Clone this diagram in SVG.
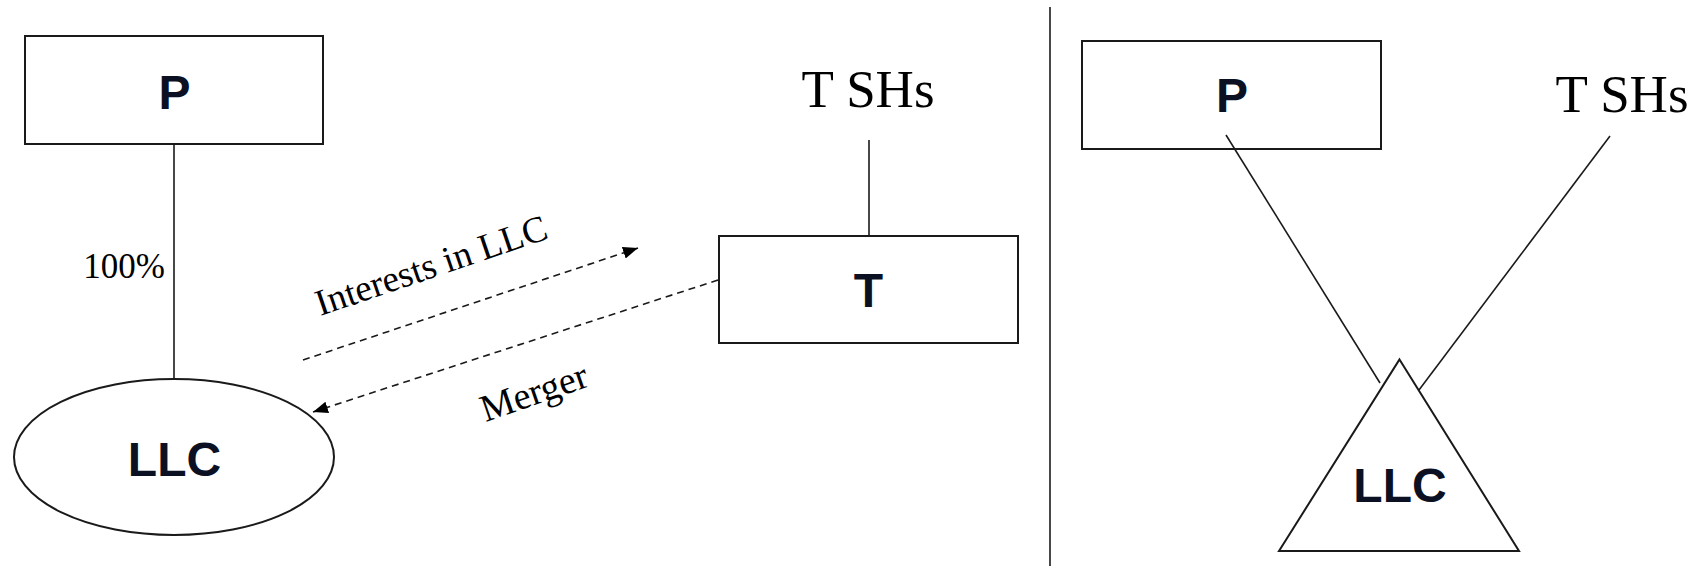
<svg xmlns="http://www.w3.org/2000/svg" width="1696" height="566" viewBox="0 0 1696 566">
<style>
.box{fill:#fff;stroke:#1a1a1a;stroke-width:2}
.ln{fill:none;stroke:#1a1a1a;stroke-width:1.6}
.dash{fill:none;stroke:#1a1a1a;stroke-width:1.6;stroke-dasharray:7 5}
.bold{font-family:"Liberation Sans",Arial,sans-serif;font-weight:bold;font-size:48px;fill:#0b1122;text-anchor:middle}
.serif{font-family:"Liberation Serif","Times New Roman",serif;fill:#000}
</style>
<defs>
<marker id="arr" markerWidth="16" markerHeight="14" refX="15" refY="7" orient="auto" markerUnits="userSpaceOnUse">
<path d="M0,1 L15,7 L0,13 Z" fill="#000"/>
</marker>
</defs>
<rect width="1696" height="566" fill="#fff"/>
<g id="P-left">
<rect class="box" x="25" y="36" width="298" height="108"/>
<text class="bold" x="174.5" y="109">P</text>
</g>
<g id="LLC-left">
<ellipse class="box" cx="174" cy="457" rx="160" ry="78"/>
<text class="bold" x="174.5" y="476">LLC</text>
</g>
<g id="TSHs-left">
<text class="serif" x="868" y="107" font-size="53" text-anchor="middle">T SHs</text>
</g>
<g id="T">
<rect class="box" x="719" y="236" width="299" height="107"/>
<text class="bold" x="868.5" y="307">T</text>
</g>
<g id="P-right">
<rect class="box" x="1082" y="41" width="299" height="108"/>
<text class="bold" x="1232" y="112">P</text>
</g>
<g id="TSHs-right">
<text class="serif" x="1622" y="112" font-size="53" text-anchor="middle">T SHs</text>
</g>
<g id="LLC-right">
<polygon class="box" points="1399.5,359.5 1519,551 1279,551"/>
<text class="bold" x="1400" y="502">LLC</text>
</g>
<g id="connectors">
<line class="ln" x1="174" y1="144" x2="174" y2="379"/>
<line class="ln" x1="869" y1="140" x2="869" y2="236"/>
<line class="dash" x1="303" y1="360" x2="638" y2="248" marker-end="url(#arr)"/>
<line class="dash" x1="718" y1="280" x2="313" y2="412" marker-end="url(#arr)"/>
<line class="ln" x1="1226" y1="135" x2="1380" y2="383"/>
<line class="ln" x1="1610" y1="136" x2="1419" y2="390"/>
<line class="ln" x1="1050" y1="7" x2="1050" y2="566"/>
</g>
<g id="labels">
<text class="serif" x="165" y="278" font-size="35" text-anchor="end">100%</text>
<text class="serif" x="435" y="277" font-size="37" text-anchor="middle" transform="rotate(-18.8 435 277)">Interests in LLC</text>
<text class="serif" x="538" y="404" font-size="38" text-anchor="middle" transform="rotate(-19 538 404)">Merger</text>
</g>
</svg>
